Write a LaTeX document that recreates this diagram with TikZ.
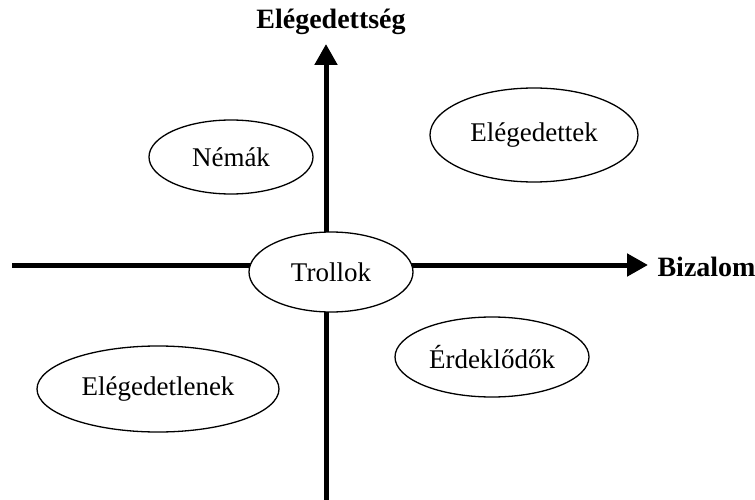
\documentclass[tikz,border=0pt]{standalone}
\usepackage{fontspec}
\setmainfont{Liberation Serif}
\usetikzlibrary{arrows.meta,shapes.geometric}
\begin{document}
\begin{tikzpicture}[x=1pt,y=-1pt,
  axis/.style={line width=5pt,-{Triangle[length=21pt,width=22pt]}},
  group/.style={draw,ellipse,fill=white,line width=1.3pt,inner sep=0pt,
    font=\fontsize{27}{30}\selectfont},
  axislabel/.style={font=\fontsize{28}{31}\selectfont\bfseries}]
  \useasboundingbox (0,0) rectangle (755,500);
  % axes
  \coordinate (xl) at (12,265);
  \coordinate (xr) at (648,265);
  \coordinate (yb) at (326,500);
  \coordinate (yt) at (326,44);
  \draw[axis] (xl) -- (xr);
  \draw[axis] (yb) -- (yt);
  \node[axislabel] (ylab) at (331,22) {Elégedettség};
  \node[axislabel,anchor=west] (xlab) at (654,267) {Bizalom};
  % groups
  \node[group,minimum width=164pt,minimum height=80pt] (troll) at (331,272) {Trollok};
  \node[group,minimum width=164pt,minimum height=74pt] (nemak) at (231,157) {Némák};
  \node[group,minimum width=208pt,minimum height=94pt] (eleg) at (534,135) {Elégedettek};
  \node[group,minimum width=194pt,minimum height=80pt] (erd) at (492,357) {Érdeklődők};
  \node[group,minimum width=242pt,minimum height=86pt] (elegtelen) at (158,389) {Elégedetlenek};
\end{tikzpicture}
\end{document}
